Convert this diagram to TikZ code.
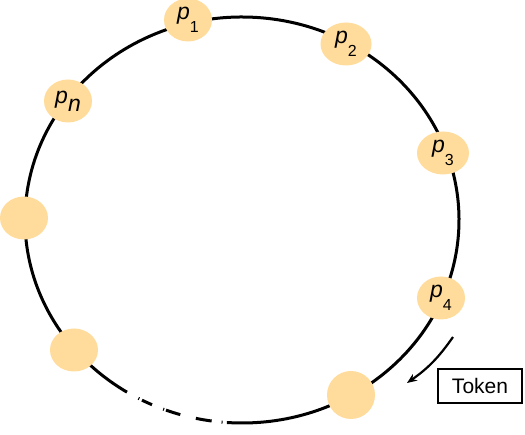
\documentclass[tikz,border=0pt]{standalone}
\usepackage{fontspec}
\setmainfont{Liberation Sans}
\usetikzlibrary{shapes.geometric,arrows.meta}
\definecolor{procfill}{RGB}{255,220,155}
\newcommand{\procsub}[1]{\textit{p}\raisebox{-13pt}{\fontsize{16}{16}\selectfont #1}}

\begin{document}
\begin{tikzpicture}[x=1pt, y=1pt, >={Stealth[length=10pt,width=8pt]}] %pixel units
    \tikzset{
        ring/.style={line width=3pt},
        proc/.style={ellipse, fill=procfill, minimum width=48pt, minimum height=43pt, inner sep=0pt, font=\fontsize{23}{23}\selectfont},
        tokenbox/.style={draw, line width=2.6pt, minimum width=84pt, minimum height=34pt, inner sep=0pt, font=\fontsize{21}{21}\selectfont}
    }
    \useasboundingbox (0,0) rectangle (525,435);
    \coordinate (ctr) at (242,215);
    \draw[ring] (ctr) ++(266:217 and 203) arc[start angle=266, end angle=598, x radius=217, y radius=203]; %solid part of the ring
    \draw[ring, dash pattern=on 0pt off 13pt on 1pt off 3pt on 11pt off 12pt on 1pt off 2pt on 15pt off 16pt on 16pt off 10pt on 1pt off 40pt]
        (ctr) ++(238:217 and 203) arc[start angle=238, end angle=267, x radius=217, y radius=203]; %broken part at the bottom

    \node[proc] (p1) at (188,415) {\procsub{1}};
    \node[proc, minimum width=51pt] (p2) at (346,391) {\procsub{2}};
    \node[proc, minimum width=52pt] (p3) at (443,282) {\procsub{3}};
    \node[proc] (p4) at (441,137) {\procsub{4}};
    \node[proc, minimum height=48pt] (q1) at (351,40) {};
    \node[proc] (q2) at (74,85) {};
    \node[proc] (q3) at (24,217) {};
    \node[proc] (pn) at (68,334) {\textit{p}\raisebox{-8pt}{\itshape n}};

    \node[tokenbox] (token) at (480,49) {Token};
    \coordinate (tokA) at (453,98);
    \coordinate (tokB) at (407,52);
    \draw[->, line width=2.2pt] (tokA) to[bend left=10] (tokB); %token passes on
\end{tikzpicture}
\end{document}
